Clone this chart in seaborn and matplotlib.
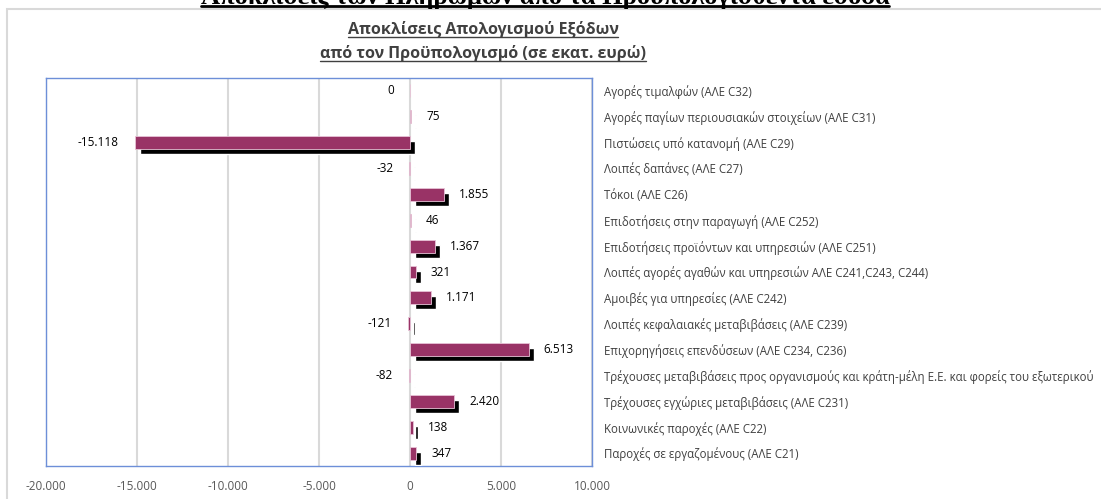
import numpy as np
import pandas as pd
import matplotlib
matplotlib.use("Agg")
import matplotlib.pyplot as plt
import matplotlib.transforms as mtransforms
from matplotlib.patches import Rectangle
from matplotlib.lines import Line2D
import seaborn as sns

# Data (million euro)
categories = [
    "Αγορές τιμαλφών (ΑΛΕ C32)",
    "Αγορές παγίων περιουσιακών στοιχείων (ΑΛΕ C31)",
    "Πιστώσεις υπό κατανομή (ΑΛΕ C29)",
    "Λοιπές δαπάνες (ΑΛΕ C27)",
    "Τόκοι (ΑΛΕ C26)",
    "Επιδοτήσεις στην παραγωγή (ΑΛΕ C252)",
    "Επιδοτήσεις προϊόντων και υπηρεσιών (ΑΛΕ C251)",
    "Λοιπές αγορές αγαθών και υπηρεσιών ΑΛΕ C241,C243, C244)",
    "Αμοιβές για υπηρεσίες (ΑΛΕ C242)",
    "Λοιπές κεφαλαιακές μεταβιβάσεις (ΑΛΕ C239)",
    "Επιχορηγήσεις επενδύσεων (ΑΛΕ C234, C236)",
    "Τρέχουσες μεταβιβάσεις προς οργανισμούς και κράτη-μέλη Ε.Ε. και φορείς του εξωτερικού",
    "Τρέχουσες εγχώριες μεταβιβάσεις (ΑΛΕ C231)",
    "Κοινωνικές παροχές (ΑΛΕ C22)",
    "Παροχές σε εργαζομένους (ΑΛΕ C21)",
]
values = [0, 75, -15118, -32, 1855, 46, 1367, 321, 1171, -121, 6513, -82, 2420, 138, 347]
x_ticks = [-20000, -15000, -10000, -5000, 0, 5000, 10000]

heading = "Αποκλίσεις των Πληρωμών από τα Προϋπολογισθέντα έσοδα"
title_lines = ["Αποκλίσεις Απολογισμού Εξόδων", "από τον Προϋπολογισμό (σε εκατ. ευρώ)"]

df = pd.DataFrame({"category": categories, "value": values})

def fmt(v):
    return f"{v:,.0f}".replace(",", ".")

sns.set_theme(style="white")
narrow = ["Liberation Sans Narrow", "Open Sans", "DejaVu Sans"]
plt.rcParams["font.family"] = narrow

W, H = 1101, 499
fig = plt.figure(figsize=(W / 100, H / 100), dpi=100)
ax = fig.add_axes([46 / W, (H - 466) / H, (592 - 46) / W, (466 - 78) / H])

# shadow bars first, then the maroon bars on top
sns.barplot(data=df, y="category", x="value", orient="h", color="black",
            width=0.5, saturation=1, ax=ax, zorder=3)
n_shadow = len(ax.patches)
offset = mtransforms.ScaledTranslation(5 / 100, -5 / 100, fig.dpi_scale_trans)
for p in ax.patches[:n_shadow]:
    p.set_transform(ax.transData + offset)
sns.barplot(data=df, y="category", x="value", orient="h", color="#993366",
            width=0.5, saturation=1, ax=ax, zorder=4,
            edgecolor="#e7c3d6", linewidth=0.6)

ax.set_xlim(-20000, 10000)
ax.set_xticks(x_ticks)
ax.set_xticklabels([fmt(t) for t in x_ticks], color="#595959", fontsize=8.5)
ax.tick_params(axis="x", length=0, pad=10)
ax.xaxis.grid(True, color="#d9d9d9", linewidth=1.5, zorder=0)
ax.set_axisbelow(True)
ax.set_xlabel("")
ax.set_ylabel("")

ax.yaxis.tick_right()
ax.tick_params(axis="y", length=0, pad=9, labelsize=8.3, labelcolor="#404040")
for spine in ax.spines.values():
    spine.set_color("#6d8fd8")
    spine.set_linewidth(1.0)

# value labels: outside end of each bar
px = mtransforms.ScaledTranslation(15 / 100, 0, fig.dpi_scale_trans)
nx = mtransforms.ScaledTranslation(-16 / 100, 0, fig.dpi_scale_trans)
for i, v in enumerate(values):
    if v > 0:
        ax.text(v, i, fmt(v), ha="left", va="center", fontsize=8.5,
                color="black", transform=ax.transData + px)
    else:
        ax.text(v, i, fmt(v), ha="right", va="center", fontsize=8.5,
                color="black", transform=ax.transData + nx)

# outer chart border
fig.patches.append(Rectangle((7 / W, -0.05), 1.2, (H - 9) / H + 0.05,
                             transform=fig.transFigure, fill=False,
                             edgecolor="#d9d9d9", linewidth=1.5))

# titles (underlined)
texts = []
t0 = fig.text(545 / W, 1 - 4 / H, heading, ha="center", va="baseline",
              fontsize=19, fontweight="bold", family=["Liberation Serif", "DejaVu Serif"],
              color="black")
texts.append((t0, "black", 2.0, 2))
for k, line in enumerate(title_lines):
    t = fig.text(483 / W, 1 - (34 + 24 * k) / H, line, ha="center", va="baseline",
                 fontsize=11.5, fontweight="bold", color="#404040")
    texts.append((t, "#404040", 1.0, 3))

fig.canvas.draw()
renderer = fig.canvas.get_renderer()
for t, col, lw, gap in texts:
    bb = t.get_window_extent(renderer)
    # baseline position in pixels
    bx, by = t.get_transform().transform(t.get_position())
    y = (by - gap) / H
    fig.add_artist(Line2D([bb.x0 / W, bb.x1 / W], [y, y], transform=fig.transFigure,
                          color=col, linewidth=lw))

fig.savefig("out.png", dpi=100)
